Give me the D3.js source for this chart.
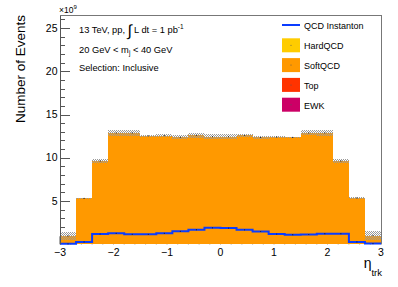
<!DOCTYPE html>
<head>
  <meta charset="utf-8">
  <script src="https://d3js.org/d3.v7.min.js"></script>
  <style>
    body { margin: 0; background: #fff; }
    text { font-family: "Liberation Sans", Arial, Helvetica, sans-serif; fill: #000; }
  </style>
</head>
<body>
  <script>
    // bin edges in eta_trk and contents in units of 1e9 events
    var binEdges  = [-3, -2.7, -2.4, -2.1, -1.8, -1.5, -1.2, -0.9, -0.6, -0.3, 0,
                     0.3, 0.6, 0.9, 1.2, 1.5, 1.8, 2.1, 2.4, 2.7, 3];
    var ewk       = [0.01, 0.01, 0.01, 0.01, 0.01, 0.01, 0.01, 0.01, 0.01, 0.01,
                     0.01, 0.01, 0.01, 0.01, 0.01, 0.01, 0.01, 0.01, 0.01, 0.01];
    var topQ      = [0.03, 0.07, 0.07, 0.07, 0.07, 0.07, 0.07, 0.07, 0.07, 0.07,
                     0.07, 0.07, 0.07, 0.07, 0.07, 0.07, 0.07, 0.07, 0.07, 0.03];
    var softQCD   = [0.92, 5.22, 9.55, 12.8, 12.8, 12.45, 12.48, 12.3, 12.52, 12.37,
                     12.37, 12.52, 12.27, 12.32, 12.27, 12.8, 12.8, 9.55, 5.27, 0.97];
    var hardQCD   = [0.005, 0.005, 0.005, 0.005, 0.005, 0.005, 0.005, 0.005, 0.005, 0.005,
                     0.005, 0.005, 0.005, 0.005, 0.005, 0.005, 0.005, 0.005, 0.005, 0.005];
    var totalErr  = [0.45, 0.08, 0.25, 0.35, 0.35, 0.15, 0.15, 0.2, 0.3, 0.3,
                     0.3, 0.2, 0.15, 0.1, 0.1, 0.3, 0.35, 0.25, 0.08, 0.5];
    var instanton = [0.05, 0.27, 1.19, 1.27, 1.15, 1.15, 1.27, 1.5, 1.69, 1.9,
                     1.88, 1.67, 1.48, 1.19, 1.11, 1.13, 1.23, 1.23, 0.28, 0.08];
    var xTicks = [-3, -2, -1, 0, 1, 2, 3];
    var yTicks = [5, 10, 15, 20, 25];

    var colors = {EWK: "#cc0066", Top: "#ff3300", SoftQCD: "#ff9900", HardQCD: "#ffcc00"};
    var blue = "#0a3cff";
    var axisColor = "#555";

    var W = 398, H = 287;
    var x = d3.scaleLinear().domain([-3, 3]).range([60, 381]);
    var y = d3.scaleLinear().domain([0, 26.5]).range([244.3, 15]);

    var svg = d3.select("body").append("svg")
        .attr("width", W).attr("height", H);

    var defs = svg.append("defs");
    var pat = defs.append("pattern").attr("id", "band")
        .attr("patternUnits", "userSpaceOnUse")
        .attr("width", 2).attr("height", 2);
    pat.append("rect").attr("x", 0).attr("y", 0).attr("width", 1).attr("height", 1).attr("fill", "#9a9a9a");
    pat.append("rect").attr("x", 1).attr("y", 1).attr("width", 1).attr("height", 1).attr("fill", "#9a9a9a");

    // y ticks (inside, drawn under the histograms)
    var gy = svg.append("g");
    d3.range(1, 27).forEach(function (v) {
        var major = v % 5 === 0;
        gy.append("line")
            .attr("x1", 60).attr("x2", 60 + (major ? 10 : 5))
            .attr("y1", Math.round(y(v)) + 0.5).attr("y2", Math.round(y(v)) + 0.5)
            .attr("stroke", axisColor).attr("stroke-width", 1);
    });
    // x ticks
    d3.range(-30, 31, 2).forEach(function (k) {
        var v = k / 10;
        var major = k % 10 === 0;
        svg.append("line")
            .attr("x1", x(v)).attr("x2", x(v))
            .attr("y1", y(0)).attr("y2", y(0) - (major ? 8 : 4))
            .attr("stroke", axisColor);
    });

    // stacked histogram
    var bins = binEdges.slice(0, -1).map(function (lo, i) {
        return {lo: lo, hi: binEdges[i + 1], EWK: ewk[i], Top: topQ[i],
                SoftQCD: softQCD[i], HardQCD: hardQCD[i], err: totalErr[i], inst: instanton[i]};
    });
    var keys = ["EWK", "Top", "SoftQCD", "HardQCD"];
    var stacked = d3.stack().keys(keys)(bins);

    svg.append("g").attr("shape-rendering", "crispEdges")
        .selectAll("g")
        .data(stacked).enter().append("g")
        .attr("fill", function (s) { return colors[s.key]; })
        .selectAll("rect")
        .data(function (s) { return s; })
        .enter().append("rect")
        .attr("x", function (d) { return x(d.data.lo); })
        .attr("width", function (d) { return x(d.data.hi) - x(d.data.lo); })
        .attr("y", function (d) { return y(d[1]); })
        .attr("height", function (d) { return y(d[0]) - y(d[1]); });

    // total uncertainty band
    var last = stacked[stacked.length - 1];
    svg.append("g").selectAll("rect")
        .data(last).enter().append("rect")
        .attr("x", function (d) { return x(d.data.lo); })
        .attr("width", function (d) { return x(d.data.hi) - x(d.data.lo); })
        .attr("y", function (d) { return y(d[1] + d.data.err); })
        .attr("height", function (d) { return y(d[1] - d.data.err) - y(d[1] + d.data.err); })
        .attr("fill", "url(#band)")
        .attr("shape-rendering", "crispEdges");
    svg.append("g").selectAll("circle")
        .data(last).enter().append("circle")
        .attr("cx", function (d) { return x((d.data.lo + d.data.hi) / 2); })
        .attr("cy", function (d) { return y(d[1]); })
        .attr("r", 0.6).attr("fill", "#222");

    // QCD instanton line
    var pts = [];
    bins.forEach(function (b) { pts.push([b.lo, b.inst]); pts.push([b.hi, b.inst]); });
    svg.append("path")
        .attr("d", d3.line().x(function (p) { return x(p[0]); }).y(function (p) { return y(p[1]); })(pts))
        .attr("fill", "none").attr("stroke", blue).attr("stroke-width", 2);
    svg.append("g").selectAll("circle")
        .data(bins).enter().append("circle")
        .attr("cx", function (b) { return x((b.lo + b.hi) / 2); })
        .attr("cy", function (b) { return y(b.inst); })
        .attr("r", 0.6).attr("fill", "#222");

    // frame
    svg.append("line").attr("x1", 60.5).attr("x2", 60.5).attr("y1", 15).attr("y2", 244.3)
        .attr("stroke", axisColor);
    svg.append("line").attr("x1", 60).attr("x2", 381.5).attr("y1", 15.5).attr("y2", 15.5)
        .attr("stroke", "#777");
    svg.append("line").attr("x1", 381.5).attr("x2", 381.5).attr("y1", 15).attr("y2", 244.3)
        .attr("stroke", "#777");

    // tick labels
    svg.append("g").selectAll("text")
        .data(yTicks).enter().append("text")
        .attr("x", 57.5).attr("y", function (v) { return y(v) + 3.7; })
        .attr("text-anchor", "end").attr("font-size", "10.5px")
        .text(function (v) { return v; });
    svg.append("g").selectAll("text")
        .data(xTicks).enter().append("text")
        .attr("x", function (v) { return x(v); }).attr("y", 256)
        .attr("text-anchor", "middle").attr("font-size", "10.5px")
        .text(function (v) { return v < 0 ? "\u2212" + (-v) : v; });

    // exponent
    var ex = svg.append("text").attr("x", 59).attr("y", 13.3).attr("font-size", "8.5px");
    ex.append("tspan").text("\u00d710");
    ex.append("tspan").attr("font-size", "6px").attr("dy", -4).text("9");

    // axis titles
    svg.append("text")
        .attr("transform", "translate(25,15) rotate(-90)")
        .attr("text-anchor", "end").attr("font-size", "13.5px")
        .text("Number of Events");
    var xt = svg.append("text").attr("x", 382).attr("y", 268)
        .attr("text-anchor", "end").attr("font-size", "14px");
    xt.append("tspan").text("\u03b7");
    xt.append("tspan").attr("font-size", "9.5px").attr("dy", 8).text("trk");

    // info text
    var t1 = svg.append("text").attr("x", 79).attr("y", 33.3).attr("font-size", "9.3px");
    t1.append("tspan").text("13 TeV, pp, ");
    t1.append("tspan").attr("font-size", "16px").attr("dy", 2.5).text("\u222b");
    t1.append("tspan").attr("dy", -2.5).attr("dx", 2).text("L dt = 1 pb");
    t1.append("tspan").attr("font-size", "6.5px").attr("dy", -4).text("-1");

    var t2 = svg.append("text").attr("x", 79).attr("y", 52.7).attr("font-size", "9.3px");
    t2.append("tspan").text("20 GeV < m");
    t2.append("tspan").attr("font-size", "6.5px").attr("dy", 2).text("j");
    t2.append("tspan").attr("dy", -2).text(" < 40 GeV");

    svg.append("text").attr("x", 79).attr("y", 71.3).attr("font-size", "9.3px")
        .text("Selection: Inclusive");

    // legend
    var legendNames = ["HardQCD", "SoftQCD", "Top", "EWK"];
    svg.append("line").attr("x1", 282).attr("x2", 300).attr("y1", 25).attr("y2", 25)
        .attr("stroke", blue).attr("stroke-width", 2);
    svg.append("text").attr("x", 304).attr("y", 28.5).attr("font-size", "9px").text("QCD Instanton");
    var lg = svg.append("g").selectAll("g")
        .data(legendNames).enter().append("g")
        .attr("transform", function (d, i) { return "translate(282," + (38.3 + i * 19.8) + ")"; });
    lg.append("rect").attr("width", 18).attr("height", 14)
        .attr("fill", function (d) { return colors[d]; });
    lg.append("circle").attr("cx", 9).attr("cy", 7).attr("r", 0.5).attr("fill", "#555");
    lg.append("text").attr("x", 22).attr("y", 11).attr("font-size", "9px")
        .text(function (d) { return d; });
  </script>
</body>
